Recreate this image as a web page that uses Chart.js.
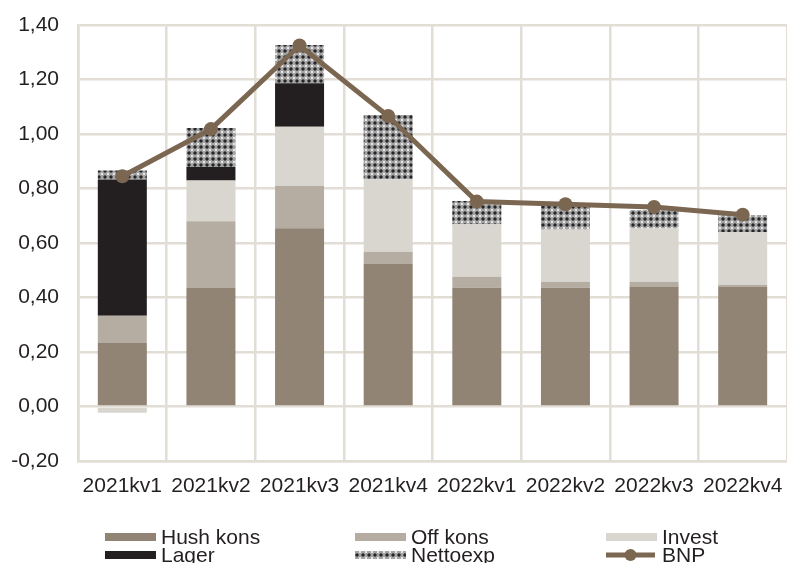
<!DOCTYPE html>
<html>
<head>
<meta charset="utf-8">
<script src="https://cdn.jsdelivr.net/npm/chart.js@4/dist/chart.umd.min.js"></script>
<style>
  html, body { margin: 0; padding: 0; background: #ffffff; }
  #wrap { width: 787px; height: 563px; position: relative; }
</style>
</head>
<body>
<div id="wrap"><canvas id="c" width="787" height="563"></canvas></div>
<script>
// Quarterly contributions to GDP growth
const categories = ['2021kv1', '2021kv2', '2021kv3', '2021kv4', '2022kv1', '2022kv2', '2022kv3', '2022kv4'];
const hushKons = [0.233, 0.435, 0.654, 0.525, 0.436, 0.436, 0.440, 0.440];
const offKons  = [0.100, 0.245, 0.156, 0.043, 0.040, 0.022, 0.018, 0.007];
const invest   = [-0.023, 0.149, 0.217, 0.266, 0.193, 0.192, 0.195, 0.192];
const lager    = [0.500, 0.050, 0.159, 0, 0, 0, 0, 0];
const nettoexp = [0.033, 0.143, 0.141, 0.236, 0.085, 0.086, 0.068, 0.064];
const bnp      = [0.845, 1.018, 1.325, 1.066, 0.752, 0.742, 0.732, 0.704];
const yTicks   = [-0.2, 0, 0.2, 0.4, 0.6, 0.8, 1.0, 1.2, 1.4];

const FONT = '"Liberation Sans", Arial, sans-serif';
const TEXT = '#231f20';
const GRID = '#e2ddd5';

// Small checkered tile used for the net export series
function makePattern() {
  const t = document.createElement('canvas');
  t.width = 6; t.height = 6;
  const g = t.getContext('2d');
  g.fillStyle = '#a4a4a4'; g.fillRect(0, 0, 6, 6);
  g.fillStyle = '#e6e6e6';
  g.fillRect(0, 0, 1, 1); g.fillRect(5, 0, 1, 1); g.fillRect(0, 5, 1, 1); g.fillRect(5, 5, 1, 1);
  g.fillStyle = '#5e5e60';
  g.fillRect(2, 1, 2, 4); g.fillRect(1, 2, 4, 2);
  g.fillStyle = '#262629';
  g.fillRect(2, 2, 2, 2);
  return t;
}
const patternCanvas = makePattern();
const ctx = document.getElementById('c').getContext('2d');
const nettoPattern = ctx.createPattern(patternCanvas, 'repeat');

const BNP_COLOR = '#7b6651';

// Three-column legend drawn underneath the category labels
const gridLegend = {
  id: 'gridLegend',
  afterDraw(chart) {
    const c = chart.ctx;
    const ds = chart.data.datasets;
    const colX = [105, 355, 606];
    const rowY = [537, 555];
    const sw = 51;
    c.save();
    c.font = '21px ' + FONT;
    c.textBaseline = 'middle';
    ds.forEach((d, i) => {
      const x = colX[i % 3];
      const y = rowY[Math.floor(i / 3)];
      if (d.type === 'line') {
        c.strokeStyle = d.borderColor;
        c.lineWidth = 5;
        c.beginPath(); c.moveTo(x, y); c.lineTo(x + sw - 2, y); c.stroke();
        c.fillStyle = d.borderColor;
        c.beginPath(); c.arc(x + (sw - 2) / 2, y, 6, 0, Math.PI * 2); c.fill();
      } else {
        c.fillStyle = d.backgroundColor;
        c.fillRect(x, y - 4, sw, 8);
      }
      c.fillStyle = TEXT;
      c.fillText(d.label, x + sw + 5, y + 1);
    });
    c.restore();
  }
};

new Chart(ctx, {
  data: {
    labels: categories,
    datasets: [
      { type: 'bar', label: 'Hush kons', data: hushKons, backgroundColor: '#918474', order: 1, stack: 'bidrag' },
      { type: 'bar', label: 'Off kons',  data: offKons,  backgroundColor: '#b5ada2', order: 1, stack: 'bidrag' },
      { type: 'bar', label: 'Invest',    data: invest,   backgroundColor: '#d9d5cf', order: 1, stack: 'bidrag' },
      { type: 'bar', label: 'Lager',     data: lager,    backgroundColor: '#231f20', order: 1, stack: 'bidrag' },
      { type: 'bar', label: 'Nettoexp',  data: nettoexp, backgroundColor: nettoPattern, order: 1, stack: 'bidrag' },
      { type: 'line', label: 'BNP', data: bnp, borderColor: BNP_COLOR, backgroundColor: BNP_COLOR,
        borderWidth: 5, pointRadius: 7, pointHoverRadius: 7, pointBackgroundColor: BNP_COLOR,
        pointBorderWidth: 0, tension: 0, order: 0, stack: 'bnp' }
    ]
  },
  options: {
    responsive: false,
    animation: false,
    devicePixelRatio: 1,
    layout: { autoPadding: false, padding: { top: 25, right: 0, bottom: 62, left: 0 } },
    datasets: { bar: { barPercentage: 0.553, categoryPercentage: 1.0, borderWidth: 0 } },
    plugins: { legend: { display: false }, tooltip: { enabled: false } },
    scales: {
      x: {
        stacked: true,
        offset: true,
        grid: { display: true, offset: true, color: GRID, lineWidth: 2.5, drawTicks: false },
        border: { display: true, color: GRID, width: 2.5 },
        ticks: { color: TEXT, font: { family: FONT, size: 21 }, padding: 13, maxRotation: 0, autoSkip: false },
        afterFit(s) { s.height = 40; s.paddingLeft = 0; s.paddingRight = 0; }
      },
      y: {
        stacked: true,
        min: yTicks[0],
        max: yTicks[yTicks.length - 1],
        afterBuildTicks(s) { s.ticks = yTicks.map(v => ({ value: v })); },
        grid: { color: GRID, lineWidth: 2.5, drawTicks: false },
        border: { display: true, color: GRID, width: 2.5 },
        ticks: {
          color: TEXT, font: { family: FONT, size: 21 }, padding: 19,
          callback: v => Number(v).toFixed(2).replace('.', ',')
        },
        afterFit(s) { s.width = 78; s.paddingTop = 0; s.paddingBottom = 0; }
      }
    }
  },
  plugins: [gridLegend]
});
</script>
</body>
</html>
